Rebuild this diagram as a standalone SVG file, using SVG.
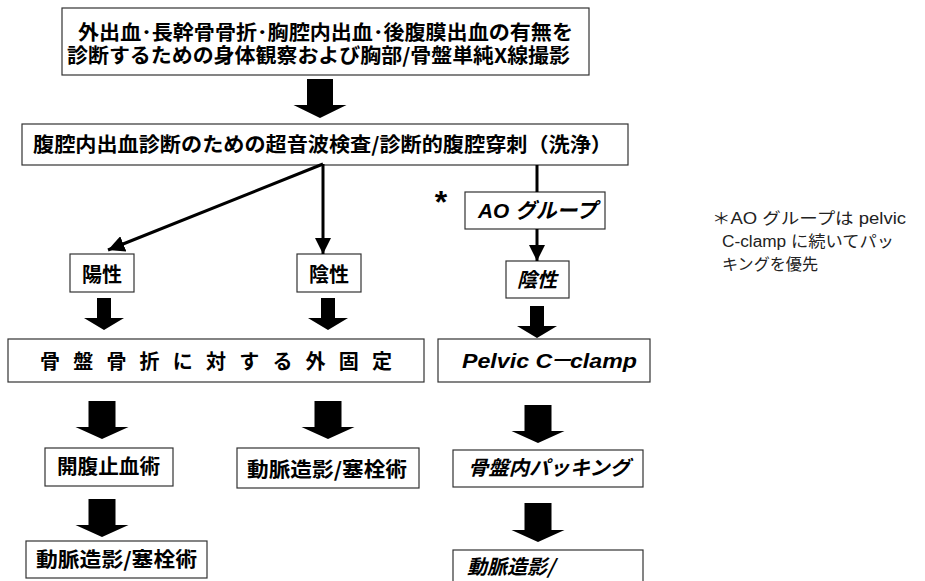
<svg xmlns="http://www.w3.org/2000/svg" width="925" height="581" viewBox="0 0 925 581">
<style>
.box{fill:#fff;stroke:#333;stroke-width:1.2}
.t{font-family:"Noto Sans CJK JP","Liberation Sans",sans-serif;font-weight:700;font-size:20px;fill:#000}
.i{font-style:italic}
.lat{font-family:"Liberation Sans","Noto Sans CJK JP",sans-serif;font-weight:700;font-style:italic;font-size:21px;fill:#000}
.note{font-family:"Liberation Sans","Noto Sans CJK JP",sans-serif;font-size:16px;fill:#222}
.fat{fill:#000}
.ln{stroke:#000;stroke-width:3;fill:none}
</style>
<defs>
<marker id="ah" viewBox="0 0 10 10" refX="10" refY="5" markerWidth="5.5" markerHeight="5.5" orient="auto" markerUnits="strokeWidth">
<path d="M0,0 L10,5 L0,10 z" fill="#000"/>
</marker>
</defs>

<g id="n-top">
<rect class="box" x="62" y="8" width="527" height="67"/>
<text class="t" x="78" y="40" textLength="495" lengthAdjust="spacingAndGlyphs">外出血･長幹骨骨折･胸腔内出血･後腹膜出血の有無を</text>
<text class="t" x="67" y="63" textLength="503" lengthAdjust="spacingAndGlyphs">診断するための身体観察および胸部/骨盤単純X線撮影</text>
</g>
<g id="n-us">
<rect class="box" x="22" y="124" width="606" height="41"/>
<text class="t" x="33" y="152" textLength="579" lengthAdjust="spacingAndGlyphs">腹腔内出血診断のための超音波検査/診断的腹腔穿刺（洗浄）</text>
</g>
<g id="n-pos">
<rect class="box" x="70" y="254" width="64" height="38"/>
<text class="t" x="102" y="282" text-anchor="middle">陽性</text>
</g>
<g id="n-neg">
<rect class="box" x="297" y="254" width="64" height="38"/>
<text class="t" x="329" y="282" text-anchor="middle">陰性</text>
</g>
<g id="n-star">
<text x="441" y="213" text-anchor="middle" font-family="Liberation Sans, sans-serif" font-weight="700" font-size="32" fill="#000">*</text>
</g>
<g id="n-ao">
<rect class="box" x="465" y="192" width="140" height="37"/>
<text class="lat" x="478" y="218" textLength="119" lengthAdjust="spacingAndGlyphs">AO <tspan font-family="Noto Sans CJK JP">グループ</tspan></text>
</g>
<g id="n-aoneg">
<rect class="box" x="506" y="261" width="63" height="37"/>
<text class="t i" x="537" y="287" text-anchor="middle">陰性</text>
</g>
<g id="n-exfix">
<rect class="box" x="8" y="339" width="416" height="43"/>
<text class="t" x="40" y="369" font-size="24" textLength="352" lengthAdjust="spacing">骨盤骨折に対する外固定</text>
</g>
<g id="n-pelvic">
<rect class="box" x="438" y="339" width="212" height="43"/>
<text class="lat" x="462" y="368" textLength="175" lengthAdjust="spacingAndGlyphs">Pelvic C<tspan font-family="Noto Sans CJK JP" dx="-3">－</tspan><tspan dx="-2">clamp</tspan></text>
</g>
<g id="n-lap">
<rect class="box" x="45" y="448" width="128" height="38"/>
<text class="t" x="57" y="474" textLength="103" lengthAdjust="spacingAndGlyphs">開腹止血術</text>
</g>
<g id="n-angio1">
<rect class="box" x="237" y="448" width="182" height="40"/>
<text class="t" x="247" y="477" textLength="160" lengthAdjust="spacingAndGlyphs">動脈造影/塞栓術</text>
</g>
<g id="n-angio2">
<rect class="box" x="26" y="541" width="181" height="37"/>
<text class="t" x="36" y="567" textLength="161" lengthAdjust="spacingAndGlyphs">動脈造影/塞栓術</text>
</g>
<g id="n-pack">
<rect class="box" x="453" y="450" width="190" height="37"/>
<text class="t i" x="468" y="475" textLength="162" lengthAdjust="spacingAndGlyphs">骨盤内パッキング</text>
</g>
<g id="n-angio3">
<rect class="box" x="453" y="550" width="190" height="40"/>
<text class="t i" x="467" y="574">動脈造影/</text>
</g>
<g id="n-note">
<text class="note" x="712" y="224" textLength="194" lengthAdjust="spacingAndGlyphs">＊AO グループは pelvic</text>
<text class="note" x="722" y="247" textLength="172" lengthAdjust="spacingAndGlyphs">C-clamp に続いてパッ</text>
<text class="note" x="722" y="270" textLength="96" lengthAdjust="spacingAndGlyphs">キングを優先</text>
</g>

<g id="connectors">
<path class="ln" d="M323,164 L108,250" marker-end="url(#ah)"/>
<path class="ln" d="M323,164 L323,254" marker-end="url(#ah)"/>
<path class="ln" d="M537,165 L537,192"/>
<path class="ln" d="M537,229 L537,261" marker-end="url(#ah)"/>
<path class="fat" d="M307,79 H333 V105 H346.5 L320,118 L293.5,105 H307 Z"/>
<path class="fat" d="M97,298 H111 V318 H124 L104,330 L84,318 H97 Z"/>
<path class="fat" d="M321,298 H335 V318 H348 L328,330 L308,318 H321 Z"/>
<path class="fat" d="M530,306 H544 V326 H557 L537,338 L517,326 H530 Z"/>
<path class="fat" d="M88.5,401 H115.5 V427 H128.5 L102,439 L75.5,427 H88.5 Z"/>
<path class="fat" d="M314.5,401 H341.5 V427 H354.5 L328,439 L301.5,427 H314.5 Z"/>
<path class="fat" d="M88.5,499 H115.5 V525 H128.5 L102,537 L75.5,525 H88.5 Z"/>
<path class="fat" d="M524.5,405 H551.5 V431 H564.5 L538,443 L511.5,431 H524.5 Z"/>
<path class="fat" d="M524.5,503 H551.5 V530 H564.5 L538,542 L511.5,530 H524.5 Z"/>
</g>
</svg>
